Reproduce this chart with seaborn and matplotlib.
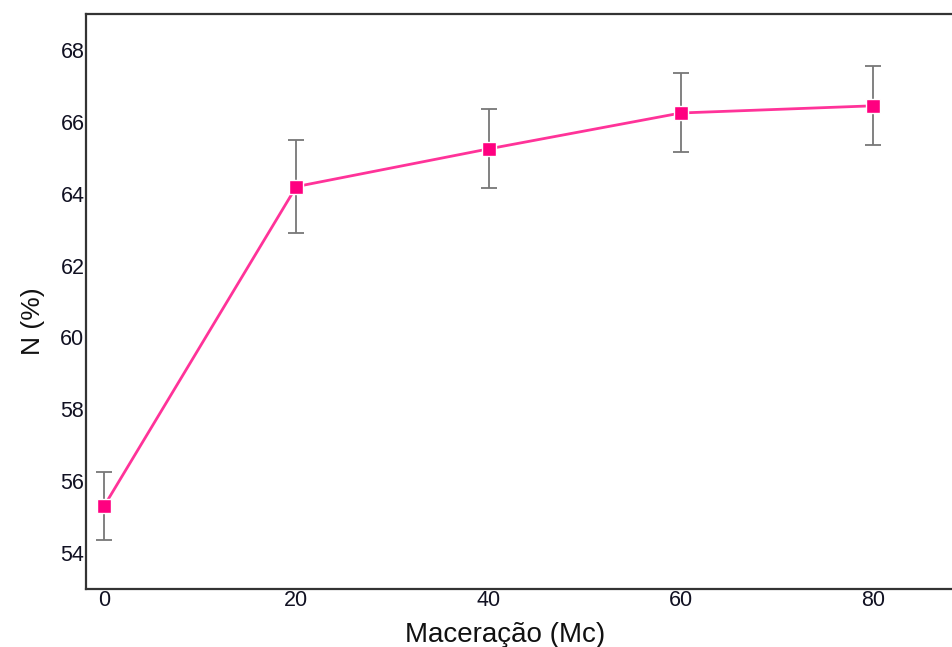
import numpy as np
import pandas as pd
import matplotlib
matplotlib.use("Agg")
import matplotlib.pyplot as plt
import seaborn as sns

# data
maceracao = [0, 20, 40, 60, 80]
n_pct = [55.3, 64.2, 65.25, 66.25, 66.45]
n_err = [0.95, 1.3, 1.1, 1.1, 1.1]

df = pd.DataFrame({"Mc": maceracao, "N": n_pct, "err": n_err})

sns.set_theme(style="white")
plt.rcParams["font.family"] = ["Liberation Sans", "DejaVu Sans"]

fig = plt.figure(figsize=(9.53, 6.47), dpi=100)
ax = fig.add_axes([0.09, 0.09, 0.915, 0.888])

ax.errorbar(df["Mc"], df["N"], yerr=df["err"], fmt="none", ecolor="#777777",
            elinewidth=1.3, capsize=6, capthick=1.3, zorder=1)
sns.lineplot(data=df, x="Mc", y="N", ax=ax, color="#ff3399", linewidth=2,
             marker="s", markersize=10, markerfacecolor="#ff0080",
             markeredgecolor="white", markeredgewidth=1, zorder=3)

ax.set_xlim(-1.9, 88.8)
ax.set_ylim(53, 69)
ax.set_xticks(maceracao)
ax.set_yticks([54, 56, 58, 60, 62, 64, 66, 68])
ax.tick_params(axis="both", labelsize=15.5, length=0, pad=1, colors="#111122")
ax.set_xlabel("Maceração (Mc)", fontsize=20, color="#111111")
ax.set_ylabel("N (%)", fontsize=19, color="#111111")
# label positions as in the reference (x label centred left of axes centre)
ax.xaxis.set_label_coords(0.481, -0.057)
ax.yaxis.set_label_coords(-0.047, 0.465)

for side in ["left", "bottom", "top", "right"]:
    ax.spines[side].set_color("#333333")
    ax.spines[side].set_linewidth(1.6)

fig.savefig("out.png", dpi=100)
